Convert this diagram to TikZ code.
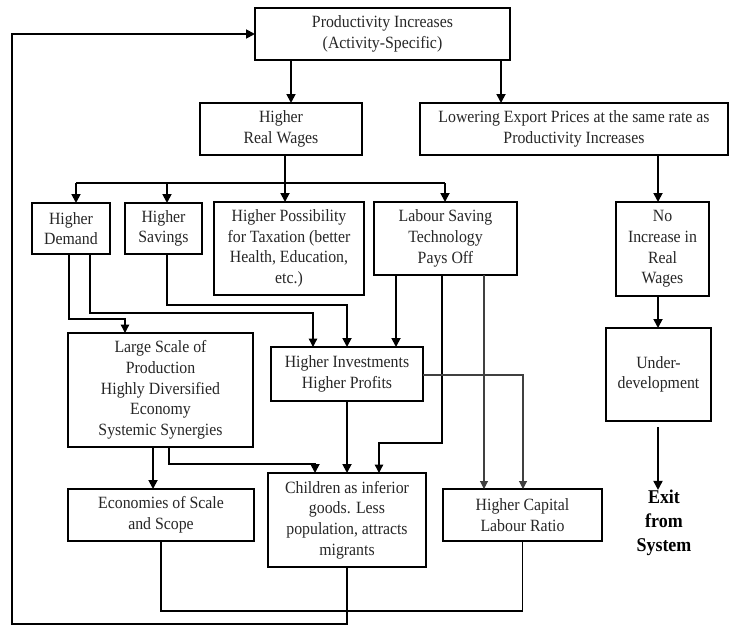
\documentclass[tikz,border=0pt]{standalone}
\usepackage{fontspec}
\setmainfont[FakeStretch=0.92]{Liberation Serif}
\usetikzlibrary{arrows.meta}

\begin{document}
\begin{tikzpicture}[x=1pt, y=-1pt,
  box/.style={draw, line width=1.8pt, inner sep=1pt, outer sep=0pt,
              align=center, text=black!85, font=\fontsize{17.2}{20.7}\selectfont},
  arr/.style={line width=1.8pt, -{Triangle[width=9pt,length=9pt]}},
  lnk/.style={line width=1.8pt},
  arrmid/.style={line width=1.35pt, -{Triangle[width=8.5pt,length=8.5pt]}},
  arrthin/.style={line width=1.1pt, black!75, -{Triangle[width=8pt,length=8pt]}},
  ]
\useasboundingbox (0,0) rectangle (731,626);

% top row
\node[box, minimum width=255, minimum height=52] (prod) at (382.5,34)
  {Productivity Increases\\(Activity-Specific)};
\node[box, minimum width=162, minimum height=52] (wages) at (281,129)
  {Higher\\Real Wages};
\node[box, minimum width=308, minimum height=52] (export) at (574,129)
  {Lowering Export Prices at the same rate as\\Productivity Increases};

% second row
\node[box, minimum width=78, minimum height=51] (demand) at (71,228.5)
  {Higher\\Demand};
\node[box, minimum width=77, minimum height=51] (savings) at (163.5,228.5)
  {Higher\\Savings};
\node[box, minimum width=150, minimum height=93] (tax) at (289,248.5)
  {Higher Possibility\\for Taxation (better\\Health, Education,\\etc.)};
\node[box, minimum width=143, minimum height=73] (labour) at (445.5,238.5)
  {Labour Saving\\Technology\\Pays Off};
\node[box, minimum width=93, minimum height=94] (noinc) at (662.5,249)
  {No\\Increase in\\Real\\Wages};

% third row
\node[box, minimum width=185, minimum height=114] (large) at (160.5,390)
  {Large Scale of\\Production\\Highly Diversified\\Economy\\Systemic Synergies};
\node[box, minimum width=152, minimum height=54] (invest) at (347,374)
  {Higher Investments\\Higher Profits};
\node[box, minimum width=105, minimum height=93] (under) at (658.5,374.5)
  {Under-\\development};

% bottom row
\node[box, minimum width=186, minimum height=52] (econ) at (161,515)
  {Economies of Scale\\and Scope};
\node[box, minimum width=158, minimum height=94] (child) at (347,520)
  {Children as inferior\\goods. Less\\population, attracts\\migrants};
\node[box, minimum width=159, minimum height=52] (capital) at (522.5,515)
  {Higher Capital\\Labour Ratio};
\node[align=center, inner sep=0pt, font=\fontsize{19.5}{24}\selectfont\bfseries]
  (exit) at (664,523) {Exit\\from\\System};

% from productivity
\draw[arr] (prod.south -| 291,0) -- (wages.north -| 291,0);
\draw[arr] (prod.south -| 501,0) -- (export.north -| 501,0);
\draw[lnk] (wages.south -| 285,0) -- (285,183);
\draw[lnk] (76,183) -- (445,183);
\foreach \x/\n in {76/demand, 167/savings, 285/tax, 445/labour}
  \draw[arr] (\x,183) -- (\n.north -| \x,0);

% right column
\draw[arr] (export.south -| 658,0) -- (noinc.north -| 658,0);
\draw[arr] (noinc.south -| 658,0) -- (under.north -| 658,0);
\draw[arr] ([yshift=-6pt]under.south -| 658,0) -- (exit.north -| 658,0);

% into the middle
\draw[arrmid] (demand.south -| 69,0) |- (125,319) -- (large.north -| 125,0);
\draw[arrmid] (demand.south -| 90,0) |- (313,313) -- (invest.north -| 313,0);
\draw[arr] (savings.south -| 167,0) |- (347,305) -- (invest.north -| 347,0);
\draw[arr] (labour.south -| 396,0) -- (invest.north -| 396,0);
\draw[arrmid] (labour.south -| 442,0) |- (379,443) -- (child.north -| 379,0);
\draw[arrthin] (labour.south -| 484,0) -- (capital.north -| 484,0);
\draw[arrthin] (invest.east |- 0,375) -| (capital.north -| 523,0);
\draw[arr] (invest.south) -- (child.north);
\draw[arr] (large.south -| 153,0) -- (econ.north -| 153,0);
\draw[arr] (large.south -| 169,0) |- (315,464) -- (child.north -| 315,0);

% loop back
\draw[lnk] (econ.south) -- ++(0,70) -| (capital.south);
\draw[arr] (child.south) |- (12,624) |- (prod.west);
\end{tikzpicture}
\end{document}
